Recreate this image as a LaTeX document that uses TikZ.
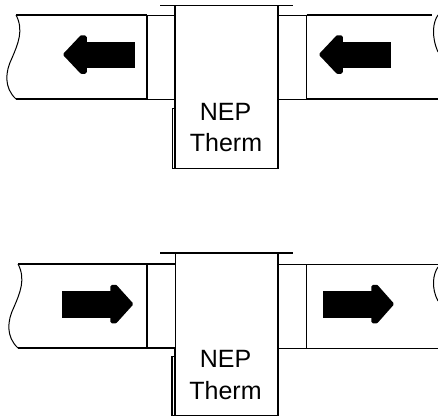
\documentclass[tikz,border=0pt]{standalone}
\usepackage{fontspec}
\setmainfont{Liberation Sans}
\tikzset{
  thin line/.style={draw=black,line width=1pt},
  mid line/.style={draw=black,line width=1.2pt},
  heavy line/.style={draw=black,line width=1.6pt},
  flow head/.style={fill=black,draw=black,line width=3.5pt,line join=round},
  flow body/.style={fill=black},
  label text/.style={font=\fontsize{25}{25}\selectfont,inner sep=0pt,anchor=base}
}
\begin{document}
\begin{tikzpicture}[x=1pt,y=-1pt]
\useasboundingbox (0,0) rectangle (438,418);
% top panel
\draw[mid line] (16,15) -- (147,15);
\draw[mid line] (16,99) -- (147,99);
\draw[thin line] (147,15) -- (175,15);
\draw[thin line] (147,99) -- (175,99);
\draw[thin line] (16,15) .. controls (24,30) and (18,44) .. (12,58) .. controls (5,72) and (4,88) .. (16,99);
\draw[heavy line] (147,15) -- (147,99);
\draw[mid line] (175,5.5) -- (175,168.5) -- (278,168.5) -- (278,5.5);
\draw[heavy line] (160,5.5) -- (175,5.5);
\draw[mid line] (175,5.5) -- (278,5.5);
\draw[heavy line] (278,5.5) -- (293,5.5);
\draw[mid line] (175,108.5) -- (172.5,108.5) -- (172.5,168.5) -- (175,168.5);
\draw[thin line] (278,15) -- (306.5,15);
\draw[thin line] (278,99) -- (306.5,99);
\draw[mid line] (306.5,15) -- (432,15);
\draw[mid line] (306.5,99) -- (438,99);
\draw[mid line] (306.5,15) -- (306.5,99);
\draw[thin line] (438,15) .. controls (433,22) and (431,36) .. (438,52);
\fill[flow body] (134.5,41.5) rectangle (84,67.5);
\draw[flow head] (85,37) -- (81.5,37) -- (65,54.5) -- (81.5,72) -- (85,72) -- cycle;
\fill[flow body] (390.7,41.5) rectangle (340,67.5);
\draw[flow head] (341,37) -- (337.5,37) -- (321,54.5) -- (337.5,72) -- (341,72) -- cycle;
\node[label text] (nepa) at (225.5,120) {NEP};
\node[label text] (therma) at (226,151.5) {Therm};
% bottom panel
\draw[mid line] (18,264) -- (175,264);
\draw[mid line] (18,348) -- (175,348);
\draw[thin line] (18,264) .. controls (26,279) and (20,293) .. (14,307) .. controls (7,321) and (6,337) .. (18,348);
\draw[heavy line] (147,264) -- (147,348);
\draw[thin line] (175,253) -- (175,348);
\draw[mid line] (175,348) -- (175,416);
\draw[heavy line] (160,253) -- (176,253);
\draw[mid line] (176,253) -- (278,253);
\draw[heavy line] (278,253) -- (293,253);
\draw[heavy line] (278,253) -- (278,356.5);
\draw[mid line] (278,356.5) -- (278,415.5) -- (175,415.5);
\draw[heavy line] (175,356.5) -- (172,356.5) -- (172,415.5) -- (175,415.5);
\draw[thin line] (278,264) -- (438,264);
\draw[thin line] (278,348) -- (438,348);
\draw[mid line] (306.5,264) -- (306.5,348);
\draw[thin line] (438,267) .. controls (433,274) and (431,288) .. (438,301);
\fill[flow body] (61.5,291) rectangle (113,317.7);
\draw[flow head] (112,286.5) -- (115.5,286.5) -- (131.3,304) -- (115.5,321.5) -- (112,321.5) -- cycle;
\fill[flow body] (323,291) rectangle (374,317.7);
\draw[flow head] (373,286.5) -- (376.5,286.5) -- (392,304) -- (376.5,321.5) -- (373,321.5) -- cycle;
\node[label text] (nepb) at (225.5,367.5) {NEP};
\node[label text] (thermb) at (225.5,399) {Therm};
\end{tikzpicture}
\end{document}
